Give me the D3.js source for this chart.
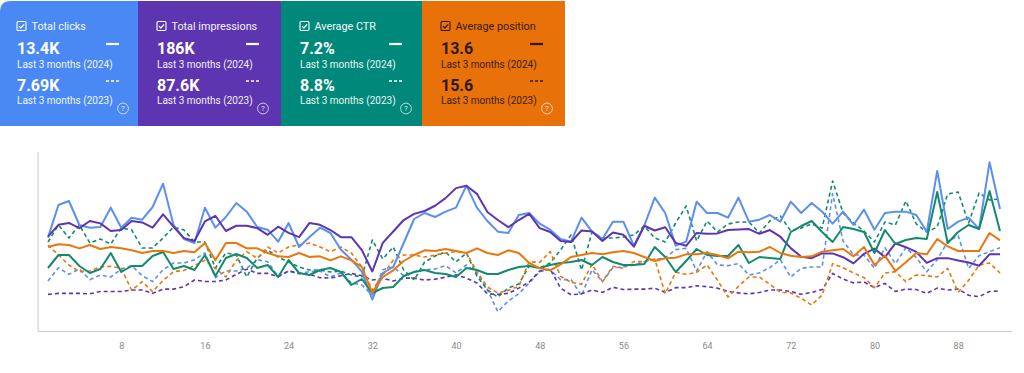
<!DOCTYPE html>
<html>
<head>
<meta charset="utf-8">
<script src="https://cdn.jsdelivr.net/npm/d3@7"></script>
<style>
    html, body { margin: 0; padding: 0; background: #fff; }
    #performanceChart { width: 1024px; height: 373px; }
    svg { display: block; font-family: Roboto, "Noto Sans", Arial, sans-serif; }
</style>
</head>
<body>
<div id="performanceChart"></div>
<script>
// Days of the 3-month window (x categories)
const days = d3.range(1, 93);
const xTickDays = [8, 16, 24, 32, 40, 48, 56, 64, 72, 80, 88];

// Daily clicks
const clicks2024 = [140,189,195,159,155,156,185,155,170,167, 186,221,159,138,132,185,155,171,192,179,
    156,152,134,162,126,141,155,147,122,107, 89,47,87,96,132,168,177,171,179,185,
    218,185,165,149,147,174,177,161,152,138, 134,170,149,138,164,164,128,158,200,177,
    128,134,194,177,177,170,200,164,167,174, 164,194,177,192,179,161,179,159,182,152,
    177,179,179,174,149,240,153,164,170,153, 253,183];
const clicks2023 = [75,95,85,93,77,84,81,93,98,83, 74,92,102,102,107,117,80,90,90,94,
    107,104,82,90,86,89,90,81,87,72, 69,54,92,96,83,89,92,93,98,87,
    99,87,62,29,45,56,72,89,92,77, 77,53,92,74,95,96,99,104,107,110,
    122,124,90,119,99,98,101,84,87,95, 107,81,94,96,96,206,135,114,114,94,
    125,101,125,110,89,107,134,143,94,113, 119,125];

// Daily impressions
const impressions2024 = [1980,2230,2270,2160,2310,2260,2100,2120,2310,2280, 2170,2450,2190,1950,1890,2300,2420,2100,2210,2210,
    2160,2020,2190,2060,1970,2270,2230,2120,1970,1970, 1700,1250,1850,2090,2330,2460,2520,2630,2790,3000,
    3050,2880,2500,2330,2180,2330,2460,2160,2080,1890, 1870,2110,2090,1890,2070,2020,1770,2210,2110,2180,
    1850,1790,2060,2040,2050,2120,2130,2140,2040,2120, 1980,1740,1560,1530,1630,1630,1550,1420,1620,1730,
    1550,1840,1760,1660,1430,1530,1530,1480,1440,1370, 1610,1610];
const impressions2023 = [770,790,790,790,780,830,830,830,860,860, 790,880,880,930,1070,1040,1040,1070,1190,1300,
    1210,1210,1140,1260,1210,1190,1120,1110,1160,1210, 1160,1070,1110,1050,1110,1110,1070,1090,1130,1180,
    1110,1010,780,770,790,900,1030,1260,1300,900, 760,780,860,810,920,870,880,880,900,810,
    910,910,950,930,900,830,800,780,810,860, 860,830,770,810,870,1210,1090,1010,1030,910,
    1000,830,880,870,790,900,860,880,750,720, 830,840];

// Daily CTR (%)
const ctr2024 = [6.3,7.6,7.6,6.5,5.8,6.2,7.8,5.9,6.5,6.5, 7.5,7.9,6.2,6.5,6.1,7.6,5.5,7.3,7.7,7.3,
    6.3,6.6,5.4,7.1,5.8,5.6,6.1,6.3,5.9,4.6, 5.2,3.8,4.3,4.4,5.5,5.9,6.1,5.8,5.7,5.4,
    6.3,6.1,5.7,5.7,6.1,6.4,6.5,6.3,6.6,6.8, 6.9,7.1,6.6,7.4,6.9,6.6,6.6,6.7,8.4,7.4,
    5.9,7.0,8.2,7.6,7.5,7.5,8.6,6.8,7.4,7.3, 7.2,9.9,10.5,11.0,9.9,8.9,10.4,10.2,9.9,7.8,
    10.1,8.7,9.1,9.3,9.2,13.9,8.8,9.9,10.6,10.2, 14.0,10.0];
const ctr2023 = [8.9,10.6,9.3,10.6,8.8,9.2,8.7,10.3,10.1,8.3, 8.3,9.3,10.4,10.1,8.9,8.9,6.3,7.8,7.6,5.4,
    7.3,8.1,7.4,6.9,6.4,6.1,6.1,5.9,6.0,5.6, 5.4,9.1,7.2,8.4,6.1,5.1,6.9,7.5,7.9,6.9,
    7.8,5.5,4.1,3.4,4.3,4.7,6.5,6.3,6.8,8.1, 9.6,6.1,9.9,9.3,9.3,9.4,9.6,10.5,9.3,8.9,
    10.8,12.5,9.0,11.0,9.9,10.7,10.9,10.9,9.8,11.0, 11.5,10.0,10.3,10.7,10.3,15.0,11.8,10.8,10.0,8.9,
    10.9,10.6,13.0,10.7,9.9,10.4,13.7,13.9,10.8,13.8, 13.1,13.2];

// Daily average position (lower is better, drawn inverted)
const position2024 = [15.3,14.9,15.0,15.5,15.0,15.6,15.3,15.5,15.8,16.2, 15.9,15.9,16.2,15.9,16.1,14.7,17.3,14.7,14.7,15.5,
    15.5,16.2,16.7,16.8,16.2,16.8,16.7,17.3,16.7,17.3, 18.3,22.2,19.8,18.8,17.4,16.5,15.8,15.9,15.6,15.9,
    16.2,15.5,16.2,16.5,15.8,16.2,17.7,18.5,18.8,17.9, 16.8,16.5,16.2,16.4,16.1,15.9,16.2,16.8,17.4,17.0,
    16.9,16.4,16.4,16.2,16.5,17.0,16.0,16.1,16.0,15.3, 16.2,16.6,16.8,16.7,16.0,15.8,15.6,16.7,15.3,18.0,
    16.6,18.9,17.6,16.2,16.4,14.1,15.2,15.9,15.9,15.9, 13.2,14.3];
const position2023 = [15.0,16.5,18.0,19.0,18.9,18.3,18.2,18.5,21.8,20.5, 22.0,20.3,19.0,18.8,18.1,17.3,18.5,19.8,17.3,16.0,
    17.0,15.3,16.2,15.3,15.0,14.7,15.3,16.0,15.3,16.2, 18.3,21.8,19.5,17.3,16.5,16.5,16.8,16.5,16.2,16.0,
    16.2,19.0,21.3,22.2,21.8,21.2,17.5,17.6,16.0,19.7, 20.6,20.9,17.9,20.5,18.2,18.5,17.5,17.5,17.1,22.3,
    19.1,19.4,19.1,18.0,20.3,22.8,21.2,19.8,19.8,20.9, 22.1,22.2,23.0,24.0,22.5,17.8,18.4,19.2,19.9,21.4,
    19.2,19.0,20.5,19.5,19.6,19.8,18.5,22.1,20.3,18.0, 17.7,19.2];

// Card texts
const cardTitles = ["Total clicks", "Total impressions", "Average CTR", "Average position"];
const cardTotals2024 = ["13.4K", "186K", "7.2%", "13.6"];
const cardTotals2023 = ["7.69K", "87.6K", "8.8%", "15.6"];
const periodLabels = ["Last 3 months (2024)", "Last 3 months (2023)"];

class PerformanceChart {
    constructor(containerId, options = {}) {
        this.containerId = containerId;
        this.options = {
            width: 1024,
            height: 373,
            plotTop: 145,
            plotBottom: 331,
            ...options
        };
        this.metrics = [
            { title: cardTitles[0], now: cardTotals2024[0], prev: cardTotals2023[0],
              series: [clicks2024, clicks2023], domain: [0, 279], inverted: false,
              card: "#4a89f3", line: "#5b8ff0", ink: "#ffffff", x: 0, w: 138 },
            { title: cardTitles[1], now: cardTotals2024[1], prev: cardTotals2023[1],
              series: [impressions2024, impressions2023], domain: [0, 3906], inverted: false,
              card: "#5e35b1", line: "#5e35b1", ink: "#ffffff", x: 138, w: 143 },
            { title: cardTitles[2], now: cardTotals2024[2], prev: cardTotals2023[2],
              series: [ctr2024, ctr2023], domain: [0, 18.6], inverted: false,
              card: "#00897b", line: "#138a70", ink: "#ffffff", x: 281, w: 141 },
            { title: cardTitles[3], now: cardTotals2024[3], prev: cardTotals2023[3],
              series: [position2024, position2023], domain: [0, 27.9], inverted: true,
              card: "#e8710a", line: "#e8770f", ink: "#2b1a0c", x: 422, w: 143 }
        ];
    }

    render() {
        d3.select(`#${this.containerId}`).selectAll("*").remove();
        this.svg = d3.select(`#${this.containerId}`)
            .append("svg")
            .attr("width", this.options.width)
            .attr("height", this.options.height);
        this.renderCards();
        this.renderPlot();
    }

    renderCards() {
        const cards = this.svg.append("g").attr("class", "cards")
            .selectAll("g")
            .data(this.metrics)
            .enter()
            .append("g")
            .attr("transform", d => `translate(${d.x},0)`);

        // background (first card has rounded top-left corner)
        cards.append("path")
            .attr("d", (d, i) => {
                const r = i === 0 ? 11 : 0, h = 126, top = 1;
                return `M0,${top + r} Q0,${top} ${r},${top} H${d.w} V${h} H0 Z`;
            })
            .style("fill", d => d.card);

        const left = (d, i) => (i === 0 ? 17 : 19);

        // checkbox
        const box = cards.append("g").attr("transform", (d, i) => `translate(${left(d, i)},21.5)`);
        box.append("rect")
            .attr("width", 9).attr("height", 9).attr("rx", 1.2)
            .style("fill", "none")
            .style("stroke", d => d.ink)
            .style("stroke-width", 1.1);
        box.append("path")
            .attr("d", "M2,4.6 L3.9,6.5 L7.1,2.8")
            .style("fill", "none")
            .style("stroke", d => d.ink)
            .style("stroke-width", 1.2);

        cards.append("text")
            .attr("x", (d, i) => left(d, i) + 14.5)
            .attr("y", 30)
            .style("font-size", "10.8px")
            .style("fill", d => d.ink)
            .style("opacity", 0.95)
            .text(d => d.title);

        [[d => d.now, 54, periodLabels[0], 67.5], [d => d.prev, 90.5, periodLabels[1], 104]].forEach(([val, vy, label, ly]) => {
            cards.append("text")
                .attr("x", left)
                .attr("y", vy)
                .style("font-size", "16px")
                .style("font-weight", "700")
                .style("fill", d => d.ink)
                .text(val);
            cards.append("text")
                .attr("x", left)
                .attr("y", ly)
                .style("font-size", "10px")
                .style("fill", d => d.ink)
                .style("opacity", 0.92)
                .text(label);
        });

        // legend strokes: solid = 2024, dashed = 2023
        cards.append("line")
            .attr("x1", (d, i) => left(d, i) + 89).attr("x2", (d, i) => left(d, i) + 102)
            .attr("y1", 44).attr("y2", 44)
            .style("stroke", d => d.ink).style("stroke-width", 2.2);
        cards.append("line")
            .attr("x1", (d, i) => left(d, i) + 89).attr("x2", (d, i) => left(d, i) + 102)
            .attr("y1", 81).attr("y2", 81)
            .style("stroke", d => d.ink).style("stroke-width", 1.6)
            .style("stroke-dasharray", "3,2");

        // help icon
        const help = cards.append("g")
            .attr("transform", (d, i) => `translate(${left(d, i) + 106},108.5)`);
        help.append("circle")
            .attr("r", 5.4)
            .style("fill", "none")
            .style("stroke", "#ffffff")
            .style("stroke-opacity", 0.7)
            .style("stroke-width", 1);
        help.append("text")
            .attr("text-anchor", "middle")
            .attr("y", 2.8)
            .style("font-size", "8px")
            .style("fill", "#ffffff")
            .style("opacity", 0.8)
            .text("?");
    }

    renderPlot() {
        const { plotTop, plotBottom } = this.options;
        const x = d3.scaleLinear().domain([1, 92]).range([48, 1000]);
        const g = this.svg.append("g").attr("class", "plot");

        // frame
        g.append("line")
            .attr("x1", 38).attr("x2", 38).attr("y1", 152).attr("y2", plotBottom)
            .style("stroke", "#c9c9c9").style("stroke-width", 1);
        g.append("line")
            .attr("x1", 38).attr("x2", 1012).attr("y1", plotBottom + 0.5).attr("y2", plotBottom + 0.5)
            .style("stroke", "#c9c9c9").style("stroke-width", 1);

        const axis = g.append("g")
            .attr("transform", `translate(0,${plotBottom})`)
            .call(d3.axisBottom(x).tickValues(xTickDays).tickSize(0).tickPadding(12));
        axis.select(".domain").remove();
        axis.selectAll("text")
            .style("font-family", "Roboto, sans-serif")
            .style("font-size", "9px")
            .style("fill", "#8a8a8a");

        const lines = [];
        this.metrics.forEach(m => {
            const y = d3.scaleLinear()
                .domain(m.domain)
                .range(m.inverted ? [plotTop, plotBottom] : [plotBottom, plotTop]);
            const gen = d3.line().x((d, i) => x(days[i])).y(d => y(d));
            lines.push({ path: gen(m.series[1]), color: m.line, dashed: true });
            lines.push({ path: gen(m.series[0]), color: m.line, dashed: false });
        });

        // previous period first, current period on top
        const ordered = lines.filter(l => l.dashed).concat(lines.filter(l => !l.dashed));
        g.selectAll(".series")
            .data(ordered)
            .enter()
            .append("path")
            .attr("class", "series")
            .attr("d", d => d.path)
            .style("fill", "none")
            .style("stroke", d => d.color)
            .style("stroke-width", d => d.dashed ? 1.6 : 2)
            .style("stroke-dasharray", d => d.dashed ? "4,3" : null)
            .style("stroke-linejoin", "round");
    }
}

const chart = new PerformanceChart("performanceChart");
chart.render();
</script>
</body>
</html>
